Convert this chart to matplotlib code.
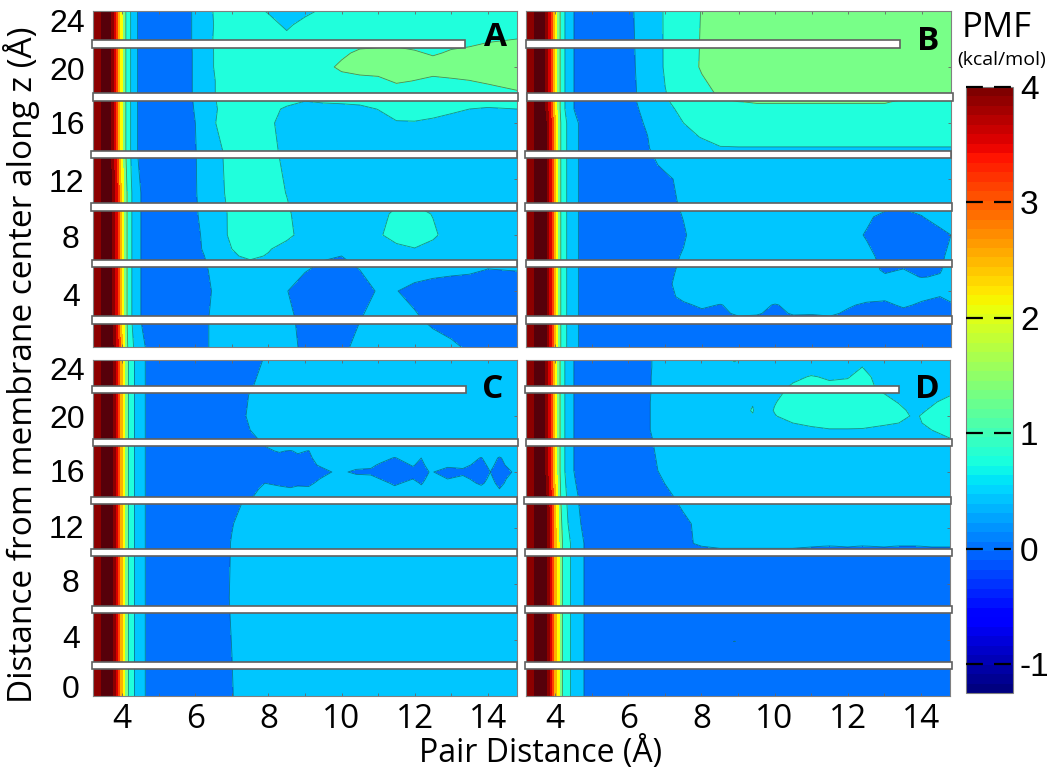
import numpy as np
import matplotlib
matplotlib.use("Agg")
import matplotlib.pyplot as plt
from matplotlib.patches import Rectangle
from matplotlib.transforms import ScaledTranslation
from matplotlib.cm import ScalarMappable
from matplotlib.colors import Normalize, ListedColormap

# ------------------------------ data ------------------------------
WALL_X = [3.2, 3.42, 3.55, 3.66, 3.75, 3.85, 3.95, 4.05, 4.15, 4.25, 4.35, 4.45, 4.55, 4.65, 4.8]
WALLS = {
    'a': [4.2, 4.5, 4.9, 4.6, 4.05, 3.3, 2.35, 1.72, 1.27, .93, .62, .44, .36, .33, .3],
    'b': [4.2, 4.5, 4.9, 4.8, 4.3, 3.65, 2.7, 1.95, 1.4, 1.03, .78, .6, .43, .36, .3],
    'c': [4.2, 4.5, 5.0, 4.9, 4.5, 3.85, 3.0, 2.15, 1.5, 1.15, .9, .76, .62, .47, .34],
    'd': [4.2, 4.5, 5.0, 4.9, 4.5, 3.9, 3.05, 2.25, 1.6, 1.25, 1.0, .85, .72, .56, .38],
    'e': [4.2, 4.5, 5.0, 4.9, 4.5, 3.95, 3.1, 2.35, 1.7, 1.3, 1.1, .95, .82, .68, .48],
}

A_X = [5.5, 6, 6.5, 7, 7.5, 8, 8.5, 9, 9.5, 10, 10.5, 11, 11.5, 12, 12.5, 13, 13.5, 14, 14.8]
A_Y = [0, 2, 4, 5.5, 6.5, 7, 8, 9.5, 11, 14, 16, 17, 18, 19, 20, 21, 22, 23, 24]
A_WALL = "c" + "b" * 8 + "a" * 10
A_Z = [
    [.27, .36, .55, .65, .7, .65, .58, .45, .35, .42, .6, .65, .68, .68, .65, .56, .45, .4, .4],
    [.27, .36, .55, .65, .7, .65, .55, .44, .35, .38, .49, .6, .62, .55, .42, .35, .32, .32, .34],
    [.27, .35, .52, .65, .7, .62, .51, .35, .3, .3, .4, .52, .51, .4, .35, .3, .3, .3, .32],
    [.27, .38, .55, .7, .78, .72, .6, .52, .42, .42, .5, .6, .65, .65, .6, .58, .55, .49, .51],
    [.28, .4, .6, .95, 1.08, .97, .8, .7, .54, .5, .6, .68, .72, .72, .7, .68, .66, .62, .62],
    [.28, .42, .65, 1.0, 1.15, 1.03, .85, .75, .72, .72, .75, .8, .85, .98, .85, .75, .72, .7, .7],
    [.3, .42, .7, 1.1, 1.2, 1.2, 1.1, .85, .75, .72, .75, .92, 1.23, 1.25, 1.08, .8, .75, .72, .72],
    [.3, .45, .8, 1.07, 1.15, 1.15, 1.05, .85, .8, .8, .8, .85, 1.1, 1.15, .98, .8, .78, .75, .75],
    [.3, .47, .85, 1.1, 1.15, 1.15, .99, .8, .75, .75, .75, .75, .8, .8, .78, .75, .75, .75, .75],
    [.3, .48, .9, 1.1, 1.15, 1.08, .93, .8, .8, .8, .8, .8, .8, .8, .8, .8, .8, .8, .8],
    [.3, .5, .98, 1.15, 1.2, 1.05, .9, .8, .8, .8, .8, .82, .97, .97, .92, .9, .88, .88, .88],
    [.3, .52, .96, 1.15, 1.2, 1.1, .95, .85, .85, .85, .9, 1.01, 1.15, 1.2, 1.15, 1.05, 1.0, .96, 1.0],
    [.3, .54, .98, 1.2, 1.25, 1.25, 1.2, 1.12, 1.2, 1.25, 1.25, 1.25, 1.25, 1.25, 1.25, 1.28, 1.3, 1.32, 1.45],
    [.3, .54, .98, 1.2, 1.25, 1.25, 1.25, 1.25, 1.25, 1.3, 1.35, 1.4, 1.55, 1.49, 1.4, 1.45, 1.49, 1.55, 1.6],
    [.3, .54, 1.0, 1.2, 1.25, 1.25, 1.25, 1.25, 1.35, 1.6, 1.7, 1.7, 1.7, 1.7, 1.7, 1.7, 1.7, 1.7, 1.7],
    [.3, .54, 1.0, 1.2, 1.2, 1.2, 1.2, 1.25, 1.3, 1.4, 1.6, 1.65, 1.65, 1.55, 1.45, 1.55, 1.62, 1.65, 1.7],
    [.3, .55, 1.02, 1.2, 1.2, 1.2, 1.15, 1.2, 1.2, 1.2, 1.25, 1.25, 1.3, 1.3, 1.3, 1.35, 1.35, 1.45, 1.5],
    [.3, .55, 1.0, 1.2, 1.2, 1.2, .9, 1.2, 1.2] + [1.2] * 10,
    [.3, .55, 1.02, 1.2, 1.2, .95, .8, .85, 1.1] + [1.2] * 10,
]

B_X = [5.5, 6, 6.5, 7, 7.5, 8, 8.5, 9, 9.5, 10, 10.5, 11, 11.5, 12, 12.5, 13, 13.5, 14, 14.5, 14.8]
B_Y = [0, 1.7, 2.4, 3, 3.6, 4.5, 5, 5.5, 6.5, 8, 9.3, 10.3, 12, 13, 14.2, 15, 16, 17, 17.5, 18, 20, 24]
B_WALL = "c" * 17 + "b" * 5
B_Z = [
    [.25, .25, .26, .28] + [.3] * 16,
    [.25, .27, .29, .3, .32, .35, .38, .42, .4, .38, .4, .42, .42, .38, .36, .35, .36, .34, .33, .36],
    [.25, .28, .3, .34, .4, .45, .46, .53, .52, .45, .52, .51, .53, .47, .42, .4, .44, .4, .38, .48],
    [.25, .28, .32, .38, .46, .54, .49, .56, .54, .49, .54, .56, .56, .52, .47, .46, .53, .47, .45, .47],
    [.25, .28, .32, .42, .56, .6, .6, .6, .6, .58, .6, .6, .6, .6, .56, .54, .58, .54, .5, .56],
    [.25, .28, .32, .44, .6] + [.65] * 15,
    [.25, .28, .32, .43, .58] + [.65] * 9 + [.62, .53, .56, .49, .52, .62],
    [.25, .28, .32, .42, .56] + [.65] * 9 + [.58, .47, .51, .42, .48, .6],
    [.25, .28, .33, .42, .52] + [.65] * 9 + [.58, .4, .38, .38, .44, .58],
    [.25, .28, .33, .35, .47] + [.65] * 8 + [.62, .47, .38, .36, .36, .42, .5],
    [.25, .28, .33, .38, .51] + [.65] * 9 + [.56, .4, .4, .49, .62, .7],
    [.25, .28, .33, .4, .55] + [.68] * 9 + [.68, .66, .58, .6, .68, .7],
    [.25, .28, .34, .44, .58] + [.7] * 15,
    [.26, .3, .41, .56, .65] + [.72] * 15,
    [.27, .34, .48, .62, .75, .85, .98] + [.98] * 13,
    [.27, .36, .49, .68, .88, 1.02, 1.1] + [1.15] * 13,
    [.28, .38, .53, .8, 1.0, 1.15, 1.2] + [1.25] * 13,
    [.28, .4, .58, .87, 1.12, 1.28, 1.38] + [1.42] * 13,
    [.28, .42, .6, .95, 1.15, 1.3, 1.45, 1.49] + [1.52] * 8 + [1.45] * 4,
    [.28, .42, .6, .98, 1.2, 1.35, 1.55] + [1.7] * 9 + [1.6] * 4,
    [.28, .43, .62, 1.05, 1.25, 1.55] + [1.8] * 14,
    [.28, .44, .65, 1.05, 1.25, 1.52] + [1.8] * 14,
]

C_X = [5.5, 6.5, 7, 7.5, 7.9, 8.3, 8.6, 8.8, 9.1, 9.4, 9.7, 9.95, 10.4, 10.8, 11.05, 11.45, 11.95,
       12.18, 12.43, 12.9, 13.32, 13.82, 14.07, 14.32, 14.66, 14.8]
C_Y = [0, 3, 7, 11, 12.3, 13.75, 14.3, 14.8, 15.2, 15.5, 16, 16.5, 17, 17.5, 18, 18.4, 19, 20, 21.5, 22.2, 24]
C_WALL = "c" * 21
C_Z = [
    [.3, .34, .49, .62] + [.65] * 22,
    [.3, .35, .5, .62] + [.65] * 22,
    [.3, .38, .52, .63] + [.65] * 22,
    [.3, .37, .51, .63] + [.65] * 22,
    [.3, .36, .49, .6] + [.65] * 22,
    [.3, .33, .42, .57] + [.62] * 22,
    [.3, .33, .4, .48, .56] + [.6] * 21,
    [.3, .33, .4, .47, .52, .53, .51, .53, .52, .58, .62, .62, .62, .62, .62, .55, .62, .55, .62, .62, .62, .55, .62, .5, .62, .62],
    [.3, .33, .38, .45, .5, .47, .46, .47, .47, .53, .58, .62, .61, .6, .58, .46, .57, .48, .6, .6, .58, .47, .56, .45, .58, .6],
    [.3, .32, .36, .42, .46, .45, .44, .45, .45, .5, .55, .6, .56, .54, .5, .44, .5, .45, .56, .5, .53, .45, .53, .44, .55, .58],
    [.3, .3, .3, .35, .38, .4, .41, .42, .43, .46, .495, .53, .47, .47, .45, .42, .46, .44, .51, .46, .47, .44, .5, .44, .5, .55],
    [.3, .3, .32, .38, .42, .44, .45, .46, .47, .51, .56, .59, .55, .53, .48, .44, .51, .47, .55, .52, .53, .46, .53, .46, .55, .6],
    [.3, .3, .32, .4, .44, .46, .46, .47, .47, .56, .6, .62, .6, .6, .56, .49, .58, .5, .6, .58, .6, .49, .58, .48, .6, .62],
    [.3, .3, .34, .42, .48, .51, .49, .52, .495, .6] + [.62] * 16,
    [.3, .3, .34, .44, .51, .6] + [.62] * 20,
    [.3, .3, .36, .46, .54, .62] + [.62] * 20,
    [.3, .3, .38, .5, .58, .62] + [.62] * 20,
    [.3, .3, .4, .53, .6, .62] + [.62] * 20,
    [.3, .3, .39, .51, .6, .62] + [.62] * 20,
    [.3, .3, .38, .48, .56, .62] + [.62] * 20,
    [.3, .3, .36, .44, .51, .6] + [.62] * 20,
]

D_X = [5.5, 6, 6.5, 7, 7.5, 8, 8.5, 8.9, 9.4, 9.6, 10, 10.5, 11, 11.5, 12, 12.4, 13, 13.4, 13.85, 14.3, 14.8]
D_Y = [0, 3.7, 3.9, 4.1, 10, 10.5, 10.7, 10.9, 12.3, 14.2, 16.1, 18.3, 19, 19.5, 20, 20.4, 21, 22, 22.8, 23.5, 24]
D_WALL = "e" * 8 + "d" + "c" + "b" * 11
D_Z = [
    [.3, .3, .3, .32] + [.35] * 17,
    [.3, .3, .3, .35, .38, .4, .42, .42] + [.42] * 13,
    [.3, .3, .3, .35, .38, .4, .42, .505] + [.42] * 13,
    [.3, .3, .3, .35, .38, .4, .42, .42] + [.42] * 13,
    [.3, .3, .3, .35, .4, .42, .44, .46] + [.46] * 13,
    [.3, .3, .32, .38, .44, .49, .49, .49, .49, .49, .49, .49] + [.45] * 9,
    [.3, .3, .32, .38, .44, .5, .53, .53, .53, .53, .53, .53, .52, .49, .52, .49, .52, .49, .49, .52, .52],
    [.3, .3, .32, .38, .45, .54] + [.62] * 15,
    [.3, .3, .33, .38, .46, .55] + [.62] * 15,
    [.3, .3, .35, .45, .55, .6] + [.65] * 15,
    [.3, .32, .42, .55, .6, .65] + [.68] * 15,
    [.3, .33, .45, .6, .65, .68] + [.7] * 12 + [.72, .78, .98],
    [.3, .33, .47, .62, .65, .68, .7, .7, .7, .7, .7, .72, .9, .97, .97, .96, .9, .85, .8, 1.0, 1.1],
    [.3, .33, .47, .62, .67, .7, .7, .72, .75, .75, .8, 1.0, 1.1, 1.15, 1.15, 1.15, 1.05, 1.0, .93, 1.1, 1.2],
    [.3, .33, .47, .62, .68, .7, .72, .75, .97, .78, .98, 1.15, 1.2, 1.2, 1.2, 1.2, 1.15, 1.1, .95, 1.15, 1.2],
    [.3, .33, .47, .62, .68, .72, .74, .76, 1.03, .8, 1.02, 1.18, 1.2, 1.2, 1.2, 1.2, 1.15, 1.08, .9, 1.05, 1.18],
    [.3, .33, .47, .62, .68, .72, .74, .76, .97, .8, .98, 1.15, 1.2, 1.2, 1.2, 1.2, 1.1, .98, .85, .95, 1.12],
    [.3, .33, .46, .62, .68, .72, .74, .76, .8, .8, .85, 1.08, 1.15, 1.1, 1.1, 1.1, .93, .85, .8, .8, .85],
    [.3, .33, .46, .62, .68, .72, .74, .76, .8, .8, .82, .9, 1.03, .95, .98, 1.1, .85, .8, .78, .78, .78],
    [.3, .33, .46, .6, .68, .72, .74, .85, .78, .78, .78, .78, .78, .78, .82, 1.0, .78, .78, .78, .75, .75],
    [.3, .33, .46, .6, .7, .75, .85, 1.05, .85, .78, .78, .78, .78, .78, .78, .78, .78, .78, .75, .75, .75],
]

LEVELS = [-1, .5, 1, 1.5, 2, 2.5, 3, 3.5, 4, 4.5, 9]
LINE_LEVELS = [.5, 1, 1.5]
BAND_COLORS = ['#0072ff', '#00c6ff', '#20ffdc', '#78ff88', '#ffff00',
               '#ffb000', '#ff4000', '#d80000', '#8c0000', '#56000a']
X_TICKS = [4, 6, 8, 10, 12, 14]
Y_TICKS = [0, 4, 8, 12, 16, 20, 24]
CBAR_TICKS = [-1, 0, 1, 2, 3, 4]
CBAR_LABELS = ['-1', '0', '1', '2', '3', '4']

# ------------------------------ figure ------------------------------
W, H = 1050, 774
fig = plt.figure(figsize=(W / 100, H / 100), dpi=100, facecolor='white')
SANS = ['Open Sans', 'DejaVu Sans']
ARIAL = ['Liberation Sans', 'DejaVu Sans']


def px_axes(x0, y0, x1, y1):
    return fig.add_axes([x0 / W, 1 - y1 / H, (x1 - x0) / W, (y1 - y0) / H])


def panel(box, xs, ys, zs, walls, letter, letter_xy, show_x, y_offsets):
    ax = px_axes(*box)
    x = np.array(WALL_X + xs)
    y = np.array(ys)
    z = np.array([WALLS[k] + r for k, r in zip(walls, zs)])
    ax.contourf(x, y, z, levels=LEVELS, colors=BAND_COLORS)
    ax.contour(x, y, z, levels=LINE_LEVELS, colors='#10303c', linewidths=.6, alpha=.55)
    ax.set_xlim(3.2, 14.8)
    ax.set_ylim(0, 24)
    ax.set_xticks(X_TICKS)
    ax.set_xticks([5, 7, 9, 11, 13], minor=True)
    ax.set_yticks(Y_TICKS)
    ax.tick_params(which='both', direction='in', length=2.5, width=.6, color='#666666',
                   top=True, right=True, left=False, bottom=True)
    ax.tick_params(axis='x', pad=5, labelsize=24, labelbottom=show_x)
    ax.tick_params(axis='y', pad=6, labelsize=23, labelleft=bool(y_offsets))
    for s in ax.spines.values():
        s.set_color('#808080')
        s.set_linewidth(.8)
    for t in ax.get_xticklabels():
        t.set_fontfamily(SANS)
    if y_offsets:
        for t, v in zip(ax.get_yticklabels(), Y_TICKS):
            t.set_fontfamily(ARIAL)
            dy = y_offsets.get(v)
            if dy is None:
                t.set_visible(False)
            else:
                dx = -5 if v < 10 else 0
                t.set_transform(t.get_transform() + ScaledTranslation(dx / 100, dy / 100, fig.dpi_scale_trans))
    fig.text(letter_xy[0] / W, 1 - letter_xy[1] / H, letter, fontsize=24, fontweight='bold',
             family=SANS, ha='center', va='center', color='black', zorder=20)
    return ax


panel((93, 11, 517, 347), A_X, A_Y, A_Z, A_WALL, 'A', (495, 38), False,
      {24: -10, 20: -2, 16: 0, 12: -1, 8: -2, 4: -3})
panel((526, 11, 951, 347), B_X, B_Y, B_Z, B_WALL, 'B', (928, 41), False, None)
panel((93, 360, 517, 696), C_X, C_Y, C_Z, C_WALL, 'C', (493, 389), True,
      {24: -8, 20: -1, 16: 1, 12: 2, 8: 4, 4: 3, 0: 9})
panel((526, 360, 950, 696), D_X, D_Y, D_Z, D_WALL, 'D', (927, 389), True, None)

# white masking bars laid over the panels
BAR_ROWS = [
    ((92, 465), [(93, 518), (91, 517), (91, 517), (92, 517), (92, 517)], [44, 97, 154.5, 207, 263.5, 320]),
    ((526, 900), [(527, 953), (525, 951), (525, 952), (526, 952), (526, 952)], [44, 97, 154.5, 207, 263.5, 320]),
    ((92, 466), [(93, 518), (91, 517), (91, 517), (92, 517), (92, 517)], [389, 442, 500, 552, 609, 665]),
    ((525, 899), [(526, 952), (524, 951), (525, 952), (525, 952), (525, 952)], [389, 442, 500, 552, 609, 665]),
]
for first, rest, ys in BAR_ROWS:
    for (x0, x1), yc in zip([first] + rest, ys):
        fig.add_artist(Rectangle((x0 / W, 1 - (yc + 3.5) / H), (x1 - x0) / W, 7 / H,
                                 transform=fig.transFigure, fc='white', ec='#606060', lw=1.2, zorder=10))

# colour bar
cax = px_axes(966, 87, 1013, 693)
sm = ScalarMappable(norm=Normalize(-1.25, 4.0), cmap=plt.get_cmap('jet', 64))
cb = fig.colorbar(sm, cax=cax, ticks=CBAR_TICKS)
cb.ax.set_yticklabels(CBAR_LABELS, family=ARIAL, fontsize=24)
cb.ax.tick_params(length=0, pad=5)
cb.outline.set_edgecolor('#808080')
cb.outline.set_linewidth(.8)
cax.hlines(CBAR_TICKS, 0, 1, colors='black', linewidth=1.6, transform=cax.get_yaxis_transform(),
           linestyles=(0, (7.6, 5.0)), zorder=5, clip_on=False)

fig.text(997 / W, 1 - 28 / H, 'PMF', fontsize=25, family=SANS, ha='center', va='center')
fig.text(1002 / W, 1 - 60 / H, '(kcal/mol)', fontsize=14, family=SANS, ha='center', va='center')
fig.text(541 / W, 1 - 753 / H, 'Pair Distance (Å)', fontsize=23, family=SANS, ha='center', va='center')
fig.text(22 / W, 1 - 365 / H, 'Distance from membrane center along z (Å)', fontsize=24,
         family=SANS, rotation=90, ha='center', va='center')

fig.savefig('out.png', dpi=100, facecolor='white')
